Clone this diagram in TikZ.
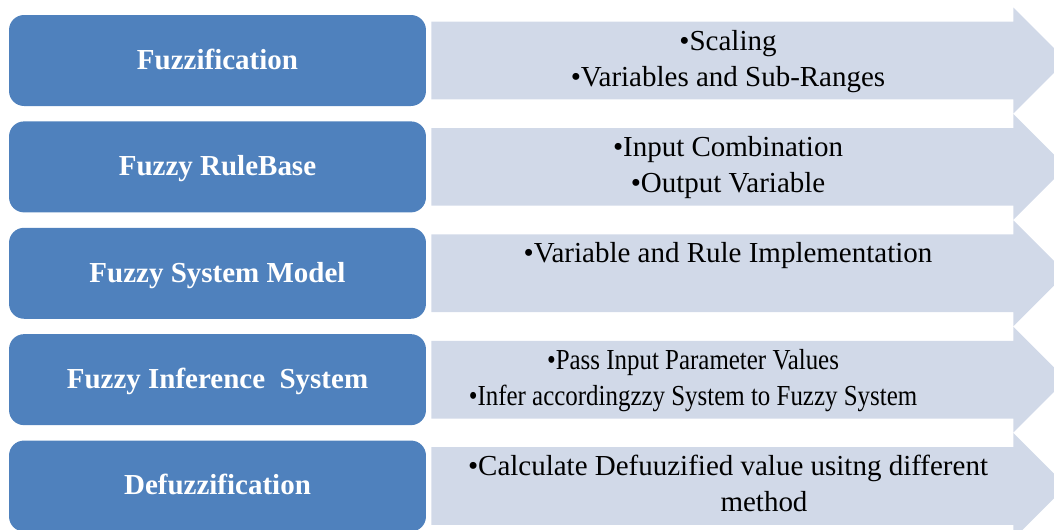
\documentclass[tikz,border=0pt]{standalone}
\usepackage{fontspec}
\setmainfont{Liberation Serif}
\newfontfamily\narrowserif{Liberation Serif}[FakeStretch=0.86]
\usetikzlibrary{positioning}

\definecolor{stageblue}{HTML}{4F81BD}
\definecolor{detailgrey}{HTML}{D1D9E8}

\begin{document}
\begin{tikzpicture}[x=0.02cm, y=-0.02cm,
  stage/.style={fill=stageblue, rounded corners=0.3cm, minimum width=8.34cm,
    minimum height=1.82cm, inner sep=0pt, text=white,
    text height=11.5pt, text depth=1.5pt,
    font=\fontsize{16.5}{20.5}\selectfont\bfseries},
  detail/.style={anchor=north, align=center, inner sep=0pt,
    font=\fontsize{16.5}{20.5}\selectfont}]
  \clip (0,0) rectangle (1054,529);
  % Stages on the left
  \node[stage] (fuzz) at (217.5,60.5) {Fuzzification};
  \node[stage, below=0.294cm of fuzz] (rule) {Fuzzy RuleBase};
  \node[stage, below=0.294cm of rule] (model) {Fuzzy System Model};
  \node[stage, below=0.294cm of model] (infer) {Fuzzy Inference\ \ System};
  \node[stage, below=0.294cm of infer] (defuzz) {Defuzzification};
  % Arrows behind the details
  \foreach \s in {fuzz,rule,model,infer,defuzz}
    \fill[detailgrey] ([shift={(5,7)}]\s.north east) -- ([shift={(587,7)}]\s.north east)
      -- ([shift={(587,-53)}]\s.east) -- ([shift={(640,0)}]\s.east)
      -- ([shift={(587,53)}]\s.east) -- ([shift={(587,-7)}]\s.south east)
      -- ([shift={(5,-7)}]\s.south east) -- cycle;
  % Details
  \node[detail] (fuzztxt) at ([shift={(510.5,15)}]fuzz.north)
    {•Scaling\\•Variables and Sub-Ranges};
  \node[detail] (ruletxt) at ([shift={(510.5,15)}]rule.north)
    {•Input Combination\\•Output Variable};
  \node[detail] (modeltxt) at ([shift={(510.5,15)}]model.north)
    {•Variable and Rule Implementation};
  \node[detail, font=\fontsize{16.5}{20.5}\narrowserif] (infertxt) at ([shift={(475.5,15)}]infer.north)
    {•Pass Input Parameter Values\\•Infer accordingzzy System to Fuzzy System};
  \node[detail] (defuzztxt) at ([shift={(510.5,15)}]defuzz.north)
    {•Calculate Defuuzified value usitng different\\\hspace*{1.44cm}method};
\end{tikzpicture}
\end{document}
